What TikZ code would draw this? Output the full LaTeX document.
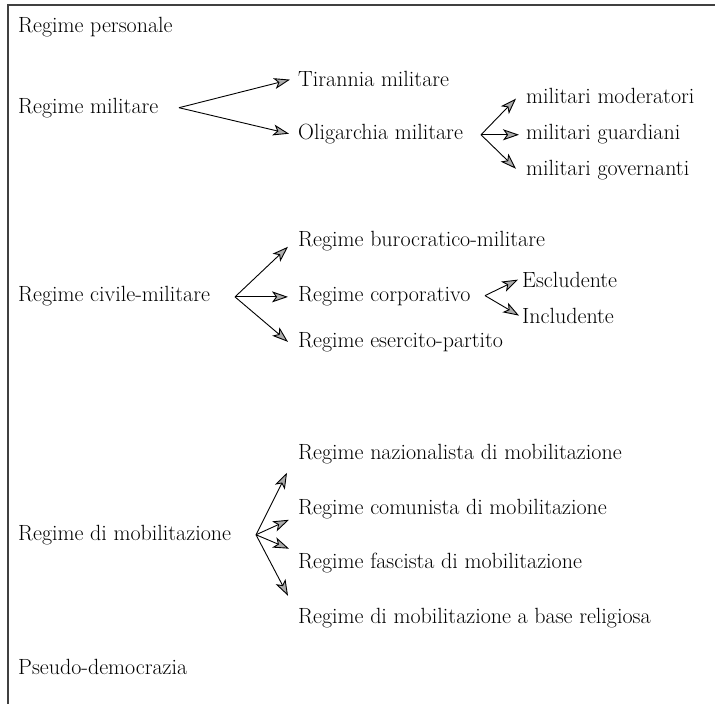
\documentclass[tikz,border=0pt]{standalone}
\usetikzlibrary{arrows.meta,calc}
\begin{document}
\begin{tikzpicture}[x=1pt,y=-1pt,
  lbl/.style={anchor=mid west,inner sep=0pt,font=\fontsize{22}{26}\selectfont},
  arr/.style={line width=0.9pt,-{Stealth[length=16pt,width=11pt,inset=4pt,fill=gray!65]}},
  frameline/.style={line width=1.1pt,draw=black!75}]
\useasboundingbox (0,0) rectangle (715,704);
\draw[frameline] (8,704) -- (8,5) -- (715,5);
% left column
\node[lbl] (rp) at (18,30) {Regime personale};
\node[lbl] (rm) at (18,111) {Regime militare};
\node[lbl] (rc) at (18,299) {Regime civile-militare};
\node[lbl] (rmob) at (18,538) {Regime di mobilitazione};
\node[lbl] (pd) at (18,672) {Pseudo-democrazia};
% military
\node[lbl] (tm) at (298,84) {Tirannia militare};
\node[lbl] (om) at (298,137) {Oligarchia militare};
\node[lbl] (mm) at (526,101) {militari moderatori};
\node[lbl] (mg) at (526,137) {militari guardiani};
\node[lbl] (mgov) at (526,173) {militari governanti};
% civil-military
\node[lbl] (rb) at (298,244) {Regime burocratico-militare};
\node[lbl] (rcorp) at (298,299) {Regime corporativo};
\node[lbl] (rep) at (298,345) {Regime esercito-partito};
\node[lbl] (esc) at (522,285) {Escludente};
\node[lbl] (inc) at (522,321) {Includente};
% mobilization
\node[lbl] (rn) at (298,457) {Regime nazionalista di mobilitazione};
\node[lbl] (rcom) at (298,512) {Regime comunista di mobilitazione};
\node[lbl] (rf) at (298,566) {Regime fascista di mobilitazione};
\node[lbl] (rrel) at (298,621) {Regime di mobilitazione a base religiosa};
% fan origins
\coordinate (o1) at ($(om.west)+(-119,-26)$);
\coordinate (o2) at ($(mg.west)+(-45,1)$);
\coordinate (o3) at ($(rcorp.west)+(-63,1)$);
\coordinate (o4) at ($(esc.west)+(-37,16)$);
\coordinate (o5) at ($(rcom.west)+(-42,26)$);
% tips
\coordinate (t1a) at ($(tm.west)+(-8,1)$);
\coordinate (t1b) at ($(om.west)+(-9,0)$);
\coordinate (t2a) at ($(mm.west)+(-10,3)$);
\coordinate (t2b) at ($(mg.west)+(-7,1)$);
\coordinate (t2c) at ($(mgov.west)+(-10,-1)$);
\coordinate (t3a) at ($(rb.west)+(-10,6)$);
\coordinate (t3b) at ($(rcorp.west)+(-10,1)$);
\coordinate (t3c) at ($(rep.west)+(-10,0)$);
\coordinate (t4a) at ($(esc.west)+(-4,0)$);
\coordinate (t4b) at ($(inc.west)+(-3,0)$);
\coordinate (t5a) at ($(rn.west)+(-11,19)$);
\coordinate (t5b) at ($(rcom.west)+(-9,11)$);
\coordinate (t5c) at ($(rf.west)+(-9,-14)$);
\coordinate (t5d) at ($(rrel.west)+(-10,-22)$);
\draw[arr] (o1) -- (t1a);
\draw[arr] (o1) -- (t1b);
\draw[arr] (o2) -- (t2a);
\draw[arr] (o2) -- (t2b);
\draw[arr] (o2) -- (t2c);
\draw[arr] (o3) -- (t3a);
\draw[arr] (o3) -- (t3b);
\draw[arr] (o3) -- (t3c);
\draw[arr] (o4) -- (t4a);
\draw[arr] (o4) -- (t4b);
\draw[arr] (o5) -- (t5a);
\draw[arr] (o5) -- (t5b);
\draw[arr] (o5) -- (t5c);
\draw[arr] (o5) -- (t5d);
\end{tikzpicture}
\end{document}
